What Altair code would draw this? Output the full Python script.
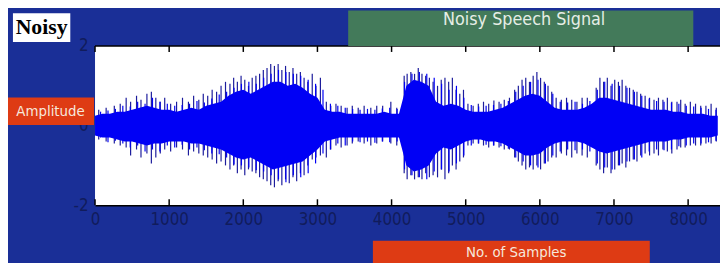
import altair as alt
import pandas as pd

# ---------------- data ----------------
# dense core of the waveform, every 100 samples (0 .. 8400)
core_samples = list(range(0, 8500, 100))
core_hi = [0.25, 0.3, 0.3, 0.35, 0.35, 0.4, 0.45, 0.5, 0.45, 0.4,
           0.4, 0.35, 0.4, 0.45, 0.4, 0.5, 0.55, 0.6, 0.75, 0.85,
           0.9, 0.8, 0.9, 1.0, 1.1, 1.1, 1.0, 1.05, 0.95, 0.8,
           0.7, 0.4, 0.35, 0.35, 0.3, 0.3, 0.3, 0.3, 0.3, 0.35,
           0.3, 0.3, 1.0, 1.15, 1.1, 1.0, 0.6, 0.5, 0.55, 0.5,
           0.4, 0.35, 0.35, 0.35, 0.4, 0.45, 0.55, 0.65, 0.75, 0.8,
           0.75, 0.6, 0.45, 0.4, 0.4, 0.4, 0.45, 0.55, 0.7, 0.7,
           0.65, 0.6, 0.55, 0.5, 0.45, 0.4, 0.4, 0.4, 0.35, 0.35,
           0.3, 0.3, 0.3, 0.25, 0.25]
core_lo = [-0.25, -0.3, -0.3, -0.35, -0.4, -0.4, -0.45, -0.5, -0.45, -0.45,
           -0.4, -0.4, -0.4, -0.45, -0.45, -0.5, -0.55, -0.6, -0.7, -0.8,
           -0.85, -0.8, -0.9, -1.0, -1.1, -1.05, -1.0, -0.95, -0.9, -0.75,
           -0.6, -0.4, -0.35, -0.3, -0.3, -0.3, -0.3, -0.3, -0.3, -0.3,
           -0.3, -0.3, -1.0, -1.15, -1.1, -1.0, -0.7, -0.55, -0.6, -0.5,
           -0.4, -0.35, -0.35, -0.4, -0.4, -0.45, -0.55, -0.65, -0.75, -0.75,
           -0.7, -0.55, -0.45, -0.4, -0.4, -0.4, -0.45, -0.55, -0.65, -0.7,
           -0.65, -0.6, -0.55, -0.5, -0.45, -0.4, -0.4, -0.4, -0.35, -0.35,
           -0.3, -0.3, -0.3, -0.3, -0.25]

# shorter strokes that roughen the edge of the core (every 100 samples, offset 75)
minor_samples = list(range(75, 8400, 100))
minor_hi = [0.35, 0.38, 0.42, 0.5, 0.48, 0.6, 0.55, 0.7, 0.6, 0.55,
            0.5, 0.52, 0.55, 0.62, 0.58, 0.68, 0.78, 0.85, 0.95, 1.05,
            1.1, 1.05, 1.2, 1.3, 1.4, 1.35, 1.3, 1.25, 1.15, 1.05,
            0.9, 0.55, 0.5, 0.45, 0.42, 0.4, 0.42, 0.4, 0.43, 0.45,
            0.42, 1.1, 1.3, 1.35, 1.3, 1.2, 1.05, 0.9, 1.0, 0.7,
            0.52, 0.48, 0.5, 0.52, 0.55, 0.62, 0.85, 1.0, 1.1, 1.15,
            1.05, 0.8, 0.6, 0.58, 0.6, 0.55, 0.62, 0.9, 1.1, 1.05,
            1.0, 0.95, 0.85, 0.75, 0.68, 0.62, 0.6, 0.58, 0.55, 0.5,
            0.48, 0.45, 0.42, 0.4]
minor_lo = [-0.3, -0.42, -0.38, -0.45, -0.55, -0.5, -0.65, -0.6, -0.65, -0.5,
            -0.55, -0.48, -0.6, -0.55, -0.62, -0.7, -0.72, -0.8, -0.98, -1.0,
            -1.05, -1.12, -1.15, -1.25, -1.35, -1.42, -1.25, -1.3, -1.2, -0.95,
            -0.7, -0.6, -0.45, -0.5, -0.4, -0.42, -0.4, -0.43, -0.4, -0.42,
            -0.4, -1.1, -1.25, -1.3, -1.35, -1.15, -1.1, -1.15, -0.95, -0.75,
            -0.5, -0.45, -0.48, -0.5, -0.52, -0.58, -0.8, -0.9, -1.0, -1.05,
            -0.95, -0.75, -0.65, -0.6, -0.62, -0.6, -0.65, -0.95, -1.05, -1.1,
            -1.0, -0.9, -0.85, -0.8, -0.65, -0.6, -0.62, -0.6, -0.52, -0.5,
            -0.45, -0.45, -0.42, -0.38]

# tall individual spikes: sample position, top, bottom
spike_samples = [50, 150, 260, 340, 420, 480, 560, 620, 700, 760, 820, 880, 940,
                 1020, 1100, 1180, 1260, 1330, 1400, 1460,
                 1520, 1580, 1640, 1700, 1760,
                 1820, 1870, 1920, 1970, 2020, 2070, 2120, 2170,
                 2220, 2270, 2320, 2370, 2420, 2470, 2520, 2570, 2620, 2670, 2720, 2770, 2820, 2870,
                 2930, 2980, 3040,
                 3120, 3180, 3250, 3320, 3400, 3470,
                 3550, 3630, 3720, 3800, 3880, 3990, 4070,
                 4170, 4210, 4260, 4310, 4360, 4410, 4460, 4510, 4560,
                 4620, 4670, 4720, 4770, 4820, 4870, 4920, 4970,
                 5030, 5100, 5170,
                 5240, 5310, 5380, 5450, 5520, 5590,
                 5660, 5710, 5760, 5810, 5860, 5910, 5960, 6010, 6060, 6110, 6160,
                 6220, 6290, 6360, 6430, 6500, 6570, 6640,
                 6760, 6810, 6860, 6910, 6960, 7010, 7060, 7110, 7160, 7210, 7260, 7310, 7360,
                 7420, 7480, 7540, 7600, 7660, 7720, 7780, 7850, 7900,
                 7960, 8030, 8100, 8170, 8240, 8310, 8380]
spike_hi = [0.4, 0.45, 0.5, 0.55, 0.7, 0.6, 0.75, 0.65, 0.8, 0.85, 0.7, 0.6, 0.7,
            0.55, 0.6, 0.7, 0.6, 0.75, 0.65, 0.8,
            0.75, 0.9, 0.85, 1.0, 1.1,
            1.05, 1.2, 1.1, 1.25, 1.15, 1.0, 1.2, 1.25,
            1.3, 1.4, 1.45, 1.55, 1.5, 1.55, 1.4, 1.5, 1.35, 1.45, 1.3, 1.35, 1.2, 1.1,
            1.3, 1.0, 1.2,
            0.6, 0.5, 0.55, 0.5, 0.45, 0.5,
            0.45, 0.5, 0.45, 0.5, 0.5, 0.6, 0.45,
            1.25, 1.3, 1.35, 1.3, 1.45, 1.3, 1.25, 1.2, 1.1,
            1.0, 1.15, 1.2, 1.1, 1.2, 0.9, 0.8, 0.9,
            0.55, 0.5, 0.55,
            0.6, 0.55, 0.63, 0.6, 0.65, 0.7,
            0.9, 1.0, 1.15, 1.2, 1.1, 1.25, 1.35, 1.2, 1.1, 1.0, 0.85,
            0.7, 0.65, 0.7, 0.65, 0.6, 0.7, 0.7,
            0.95, 1.2, 1.1, 1.2, 1.0, 1.15, 1.1, 1.15, 1.0, 0.95, 0.9, 0.85, 0.8,
            0.75, 0.7, 0.65, 0.7, 0.65, 0.7, 0.6, 0.6, 0.65,
            0.55, 0.6, 0.55, 0.5, 0.5, 0.55, 0.45]
spike_lo = [-0.35, -0.4, -0.45, -0.5, -0.55, -0.75, -0.6, -0.8, -0.7, -0.95, -0.8, -0.7, -0.6,
            -0.65, -0.55, -0.6, -0.75, -0.65, -0.7, -0.75,
            -0.8, -0.85, -0.95, -0.9, -1.0,
            -1.1, -1.0, -1.2, -1.1, -1.25, -1.1, -1.15, -1.2,
            -1.3, -1.35, -1.4, -1.5, -1.55, -1.4, -1.5, -1.35, -1.45, -1.3, -1.4, -1.2, -1.25, -1.0,
            -0.85, -0.8, -0.75,
            -0.8, -0.6, -0.5, -0.55, -0.5, -0.45,
            -0.4, -0.45, -0.5, -0.45, -0.4, -0.45, -0.5,
            -1.2, -1.35, -1.25, -1.35, -1.3, -1.35, -1.2, -1.3, -1.25,
            -1.3, -1.1, -1.35, -1.2, -1.0, -1.1, -0.9, -0.8,
            -0.5, -0.45, -0.45,
            -0.5, -0.55, -0.5, -0.55, -0.6, -0.6,
            -0.8, -0.9, -1.0, -1.1, -1.05, -1.1, -1.0, -1.1, -0.95, -0.9, -0.8,
            -0.8, -0.7, -0.75, -0.8, -0.7, -0.75, -0.8,
            -1.0, -1.1, -1.2, -1.05, -1.2, -1.1, -1.0, -0.95, -1.05, -0.9, -0.85, -0.9, -0.75,
            -0.7, -0.75, -0.7, -0.75, -0.6, -0.65, -0.7, -0.6, -0.55,
            -0.55, -0.5, -0.5, -0.5, -0.45, -0.45, -0.4]

x_ticks = [0, 1000, 2000, 3000, 4000, 5000, 6000, 7000, 8000]
y_ticks = [-2, 0, 2]

title_text = "Noisy Speech Signal"
ylabel_text = "Amplitude"
xlabel_text = "No. of Samples"
tag_text = "Noisy"

# ---------------- styling ----------------
BG = "#1a2f97"
GREEN = "#437a5a"
RED = "#de3b14"
WAVE = "#0000f5"
SPIKE = "#1c1c9c"
LABEL = "#111c5c"
NARROW = "Liberation Sans Narrow, DejaVu Sans Condensed, Liberation Sans, sans-serif"

W, H = 632, 161

core_df = pd.DataFrame({"s": core_samples, "hi": core_hi, "lo": core_lo})
minor_df = pd.DataFrame({"s": minor_samples, "hi": minor_hi, "lo": minor_lo})
spike_df = pd.DataFrame({"s": spike_samples, "hi": spike_hi, "lo": spike_lo})
tick_df = pd.DataFrame({"s": x_ticks})
one = pd.DataFrame({"k": [0]})

xscale = alt.Scale(domain=[0, 8430], nice=False, zero=False)
yscale = alt.Scale(domain=[-2, 2], nice=False)

xaxis = alt.Axis(values=x_ticks, ticks=False, grid=False, domain=True,
                 domainColor="#000000", domainWidth=1.5, labelPadding=7,
                 labelFontSize=17, labelFont=NARROW, labelColor=LABEL,
                 labelFlush=False, title=None, labelExpr="datum.value + ''")
yaxis = alt.Axis(values=y_ticks, ticks=False, grid=False, domain=False,
                 labelPadding=7, labelFontSize=17, labelFont=NARROW,
                 labelColor=LABEL, labelFlush=False, title=None,
                 labelExpr="datum.value + ''")

spikes = alt.Chart(spike_df).mark_rule(color=SPIKE, strokeWidth=1.2).encode(
    x=alt.X("s:Q", scale=xscale, axis=xaxis),
    y=alt.Y("hi:Q", scale=yscale, axis=yaxis),
    y2="lo:Q",
)

minor = alt.Chart(minor_df).mark_rule(color=WAVE, strokeWidth=1.2).encode(
    x=alt.X("s:Q", scale=xscale),
    y=alt.Y("hi:Q", scale=yscale),
    y2="lo:Q",
)

core = alt.Chart(core_df).mark_area(color=WAVE, opacity=1).encode(
    x=alt.X("s:Q", scale=xscale),
    y=alt.Y("hi:Q", scale=yscale),
    y2="lo:Q",
)

ticks_top = alt.Chart(tick_df).mark_rule(color="#000000", strokeWidth=1.5).encode(
    x=alt.X("s:Q", scale=xscale), y=alt.value(0), y2=alt.value(6))
ticks_bot = alt.Chart(tick_df).mark_rule(color="#000000", strokeWidth=1.5).encode(
    x=alt.X("s:Q", scale=xscale), y=alt.value(H - 6), y2=alt.value(H))
top_line = alt.Chart(one).mark_rule(color="#000000", strokeWidth=1.5).encode(
    x=alt.value(0), x2=alt.value(W), y=alt.value(0))

title_box = alt.Chart(one).mark_rect(color=GREEN).encode(
    x=alt.value(256), x2=alt.value(605), y=alt.value(-36), y2=alt.value(0))
title_lbl = alt.Chart(one).mark_text(
    font=NARROW, fontSize=18, color="#e6eee6", align="center", baseline="middle"
).encode(x=alt.value(434), y=alt.value(-26), text=alt.value(title_text))

amp_box = alt.Chart(one).mark_rect(color=RED).encode(
    x=alt.value(-88), x2=alt.value(-1), y=alt.value(52), y2=alt.value(80))
amp_lbl = alt.Chart(one).mark_text(
    font=NARROW, fontSize=15, color="#f6e8dc", align="center", baseline="middle"
).encode(x=alt.value(-45), y=alt.value(66), text=alt.value(ylabel_text))

smp_box = alt.Chart(one).mark_rect(color=RED).encode(
    x=alt.value(281), x2=alt.value(561), y=alt.value(197), y2=alt.value(240))
smp_lbl = alt.Chart(one).mark_text(
    font=NARROW, fontSize=15, color="#f6e8dc", align="center", baseline="middle"
).encode(x=alt.value(426), y=alt.value(208), text=alt.value(xlabel_text))

tag_box = alt.Chart(one).mark_rect(color="#ffffff").encode(
    x=alt.value(-83), x2=alt.value(-25), y=alt.value(-33), y2=alt.value(-4))
tag_lbl = alt.Chart(one).mark_text(
    font="Liberation Serif", fontWeight="bold", fontSize=22, color="#000000",
    align="center", baseline="alphabetic"
).encode(x=alt.value(-54), y=alt.value(-12), text=alt.value(tag_text))

chart = alt.layer(
    spikes, minor, core, ticks_top, ticks_bot, top_line,
    title_box, title_lbl, amp_box, amp_lbl, smp_box, smp_lbl, tag_box, tag_lbl
).properties(
    width=W, height=H, background=BG,
    autosize=alt.AutoSizeParams(type="none"),
    padding={"left": 88, "top": 37, "right": 0, "bottom": 57},
).configure_view(fill="#ffffff", stroke=None)

chart.save("out.html", embed_options={"renderer": "svg", "actions": False})
